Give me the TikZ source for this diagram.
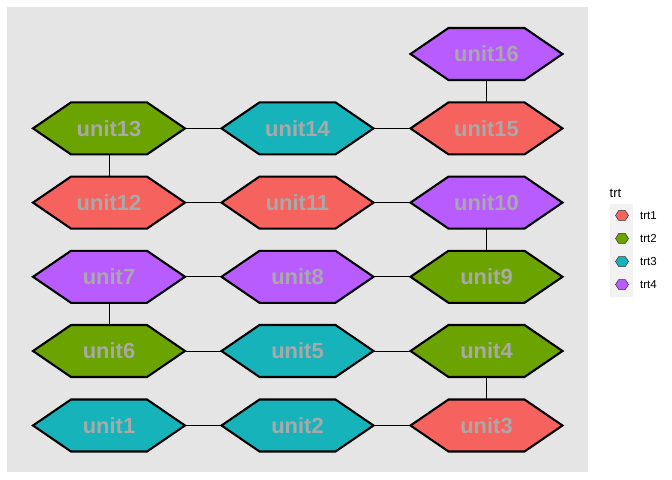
\documentclass[tikz,border=0pt]{standalone}
\usepackage{fontspec}
\setmainfont{Liberation Sans}
\definecolor{panel}{HTML}{E5E5E5}
\definecolor{trtA}{HTML}{F6635F}
\definecolor{trtB}{HTML}{6BA300}
\definecolor{trtC}{HTML}{17B3BB}
\definecolor{trtD}{HTML}{B95CFF}
\definecolor{labgray}{HTML}{A9A9A9}
\definecolor{keybg}{HTML}{F2F2F2}
\tikzset{
  unitbox/.style={rectangle, draw=none, minimum width=152bp, minimum height=52bp, inner sep=0pt,
    text=labgray, font=\fontsize{22}{26}\selectfont\bfseries},
  link/.style={draw=black, line width=0.9bp},
  hexline/.style={draw=black, line width=2.1bp, line join=miter},
  keyhex/.style={draw=black!80, line width=0.5bp},
  legtext/.style={font=\fontsize{11.5}{13}\selectfont, anchor=west, inner sep=0pt},
}
\newcommand{\hexunit}[4]{% name, x, y, color
  \filldraw[hexline, fill=#4] (#2-76,#3) -- (#2-38,#3-26) -- (#2+38,#3-26) -- (#2+76,#3) -- (#2+38,#3+26) -- (#2-38,#3+26) -- cycle;
  \node[unitbox] (#1) at (#2,#3) {#1};
}
\newcommand{\keyhexagon}[4]{% name, x, y, color
  \coordinate (#1) at (#2,#3);
  \filldraw[keyhex, fill=#4] ([xshift=-6.5bp]#1) -- ++(3.25bp,-5bp) -- ++(6.5bp,0) -- ++(3.25bp,5bp) -- ++(-3.25bp,5bp) -- ++(-6.5bp,0) -- cycle;
}
\begin{document}
\begin{tikzpicture}[x=1bp, y=-1bp]
\useasboundingbox (0,0) rectangle (672,480);
\fill[white] (0,0) rectangle (672,480);
\fill[panel] (7,7) rectangle (588,472);
% hexagons
\hexunit{unit1}{109}{425.5}{trtC}
\hexunit{unit2}{297.5}{425.5}{trtC}
\hexunit{unit3}{486.5}{425.5}{trtA}
\hexunit{unit4}{486.5}{351}{trtB}
\hexunit{unit5}{297.5}{351}{trtC}
\hexunit{unit6}{109}{351}{trtB}
\hexunit{unit7}{109}{276.8}{trtD}
\hexunit{unit8}{297.5}{276.8}{trtD}
\hexunit{unit9}{486.5}{276.8}{trtB}
\hexunit{unit10}{486.5}{202.6}{trtD}
\hexunit{unit11}{297.5}{202.6}{trtA}
\hexunit{unit12}{109}{202.6}{trtA}
\hexunit{unit13}{109}{128.4}{trtB}
\hexunit{unit14}{297.5}{128.4}{trtC}
\hexunit{unit15}{486.5}{128.4}{trtA}
\hexunit{unit16}{486.5}{54}{trtD}
% connectors
\draw[link] (unit1.east) -- (unit2.west);
\draw[link] (unit2.east) -- (unit3.west);
\draw[link] (unit3.north) -- (unit4.south);
\draw[link] (unit4.west) -- (unit5.east);
\draw[link] (unit5.west) -- (unit6.east);
\draw[link] (unit6.north) -- (unit7.south);
\draw[link] (unit7.east) -- (unit8.west);
\draw[link] (unit8.east) -- (unit9.west);
\draw[link] (unit9.north) -- (unit10.south);
\draw[link] (unit10.west) -- (unit11.east);
\draw[link] (unit11.west) -- (unit12.east);
\draw[link] (unit12.north) -- (unit13.south);
\draw[link] (unit13.east) -- (unit14.west);
\draw[link] (unit14.east) -- (unit15.west);
\draw[link] (unit15.north) -- (unit16.south);
% legend
\node[font=\fontsize{13}{15}\selectfont, anchor=west, inner sep=0pt] (legtitle) at (609.5,193) {trt};
\fill[keybg] (610,204) rectangle (633,297);
\keyhexagon{k1}{622}{215.5}{trtA}
\keyhexagon{k2}{622}{238.5}{trtB}
\keyhexagon{k3}{622}{261.5}{trtC}
\keyhexagon{k4}{622}{284.5}{trtD}
\node[legtext] (l1) at (640,215.5) {trt1};
\node[legtext] (l2) at (640,238.5) {trt2};
\node[legtext] (l3) at (640,261.5) {trt3};
\node[legtext] (l4) at (640,284.5) {trt4};
\end{tikzpicture}
\end{document}
